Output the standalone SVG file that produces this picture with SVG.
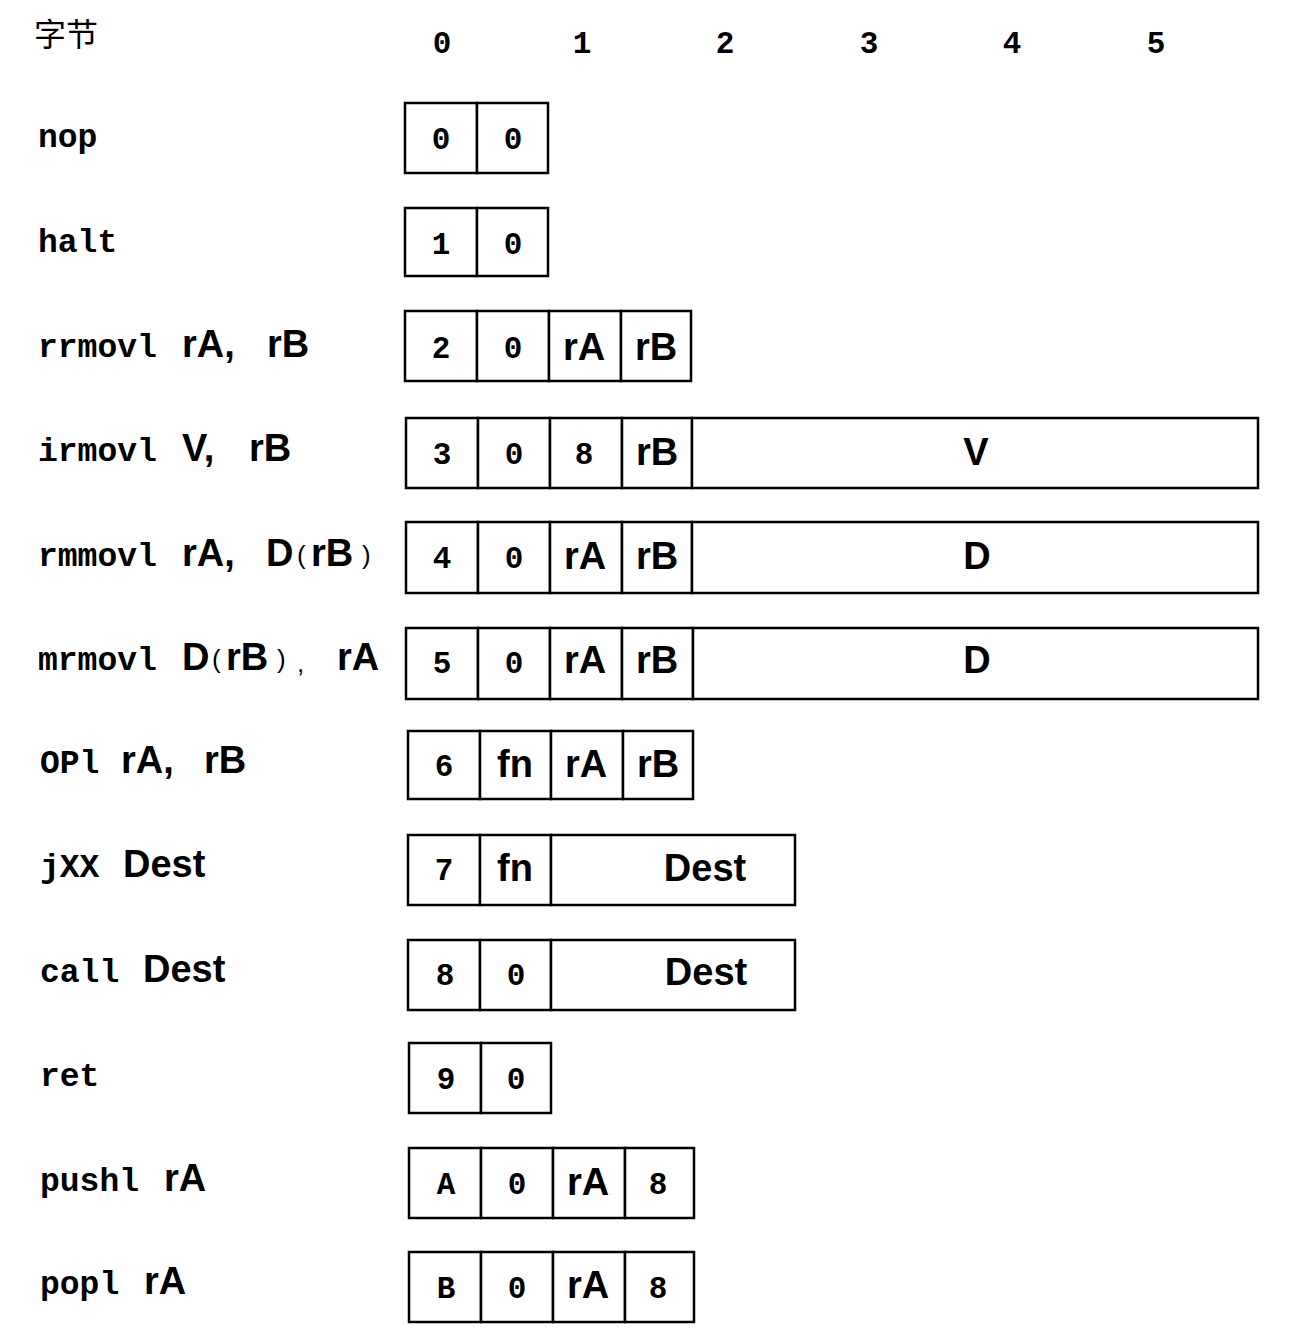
<svg xmlns="http://www.w3.org/2000/svg" width="1300" height="1340" viewBox="0 0 1300 1340">
<style>
.bg{fill:#fff}
.c{fill:#fff;stroke:#000;stroke-width:2.5}
.m{font-family:"Liberation Mono","DejaVu Sans Mono",monospace;font-weight:bold;font-size:33px;fill:#000}
.b{font-family:"Liberation Sans",Arial,sans-serif;font-weight:bold;font-size:38px;fill:#000}
.p{font-family:"Liberation Sans",Arial,sans-serif;font-size:26px;fill:#000}
.d{font-family:"Liberation Mono","DejaVu Sans Mono",monospace;font-weight:bold;font-size:31px;fill:#000;text-anchor:middle}
.bc{font-family:"Liberation Sans",Arial,sans-serif;font-weight:bold;font-size:38px;fill:#000;text-anchor:middle}
.h{font-family:"Liberation Mono","DejaVu Sans Mono",monospace;font-weight:bold;font-size:31px;fill:#000;text-anchor:middle}
.cjk{font-family:"Liberation Sans","Noto Sans CJK SC",sans-serif;font-size:32px;fill:#000}
</style>
<rect class="bg" x="0" y="0" width="1300" height="1340"/>
<g id="header">
<text class="cjk" x="34" y="46">字节</text>
<text class="h" x="442" y="53">0</text>
<text class="h" x="582" y="53">1</text>
<text class="h" x="725" y="53">2</text>
<text class="h" x="869" y="53">3</text>
<text class="h" x="1012" y="53">4</text>
<text class="h" x="1156" y="53">5</text>
</g>
<g id="connectors"></g>

<g id="nop">
<text class="m" x="38" y="147">nop</text>
<rect class="c" x="405" y="103" width="72" height="70"/>
<rect class="c" x="477" y="103" width="71" height="70"/>
<text class="d" x="441" y="149">0</text>
<text class="d" x="513" y="149">0</text>
</g>

<g id="halt">
<text class="m" x="38" y="252">halt</text>
<rect class="c" x="405" y="208" width="72" height="68"/>
<rect class="c" x="477" y="208" width="71" height="68"/>
<text class="d" x="441" y="254">1</text>
<text class="d" x="513" y="254">0</text>
</g>

<g id="rrmovl">
<text class="m" x="38" y="357">rrmovl</text>
<text class="b" x="182" y="357">rA,</text>
<text class="b" x="267" y="357">rB</text>
<rect class="c" x="405" y="311" width="72" height="70"/>
<rect class="c" x="477" y="311" width="72" height="70"/>
<rect class="c" x="549" y="311" width="72" height="70"/>
<rect class="c" x="621" y="311" width="70" height="70"/>
<text class="d" x="441" y="358">2</text>
<text class="d" x="513" y="358">0</text>
<text class="bc" x="584" y="360">rA</text>
<text class="bc" x="656" y="360">rB</text>
</g>

<g id="irmovl">
<text class="m" x="38" y="461">irmovl</text>
<text class="b" x="182" y="461">V,</text>
<text class="b" x="249" y="461">rB</text>
<rect class="c" x="406" y="418" width="72" height="70"/>
<rect class="c" x="478" y="418" width="72" height="70"/>
<rect class="c" x="550" y="418" width="72" height="70"/>
<rect class="c" x="622" y="418" width="70" height="70"/>
<rect class="c" x="692" y="418" width="566" height="70"/>
<text class="d" x="442" y="464">3</text>
<text class="d" x="514" y="464">0</text>
<text class="d" x="584" y="464">8</text>
<text class="bc" x="657" y="465">rB</text>
<text class="bc" x="976" y="465">V</text>
</g>

<g id="rmmovl">
<text class="m" x="38" y="566">rmmovl</text>
<text class="b" x="182" y="566">rA,</text>
<text class="b" x="266" y="566">D</text>
<text class="p" x="297" y="564">(</text>
<text class="b" x="311" y="566">rB</text>
<text class="p" x="362" y="564">)</text>
<rect class="c" x="406" y="522" width="72" height="71"/>
<rect class="c" x="478" y="522" width="72" height="71"/>
<rect class="c" x="550" y="522" width="72" height="71"/>
<rect class="c" x="622" y="522" width="70" height="71"/>
<rect class="c" x="692" y="522" width="566" height="71"/>
<text class="d" x="442" y="568">4</text>
<text class="d" x="514" y="568">0</text>
<text class="bc" x="585" y="569">rA</text>
<text class="bc" x="657" y="569">rB</text>
<text class="bc" x="977" y="569">D</text>
</g>

<g id="mrmovl">
<text class="m" x="38" y="670">mrmovl</text>
<text class="b" x="182" y="670">D</text>
<text class="p" x="212" y="668">(</text>
<text class="b" x="226" y="670">rB</text>
<text class="p" x="277" y="668">)</text>
<text class="p" x="297" y="672">,</text>
<text class="b" x="337" y="670">rA</text>
<rect class="c" x="406" y="628" width="72" height="71"/>
<rect class="c" x="478" y="628" width="72" height="71"/>
<rect class="c" x="550" y="628" width="72" height="71"/>
<rect class="c" x="622" y="628" width="71" height="71"/>
<rect class="c" x="693" y="628" width="565" height="71"/>
<text class="d" x="442" y="673">5</text>
<text class="d" x="514" y="673">0</text>
<text class="bc" x="585" y="673">rA</text>
<text class="bc" x="657" y="673">rB</text>
<text class="bc" x="977" y="673">D</text>
</g>

<g id="OPl">
<text class="m" x="40" y="773">OPl</text>
<text class="b" x="121" y="773">rA,</text>
<text class="b" x="204" y="773">rB</text>
<rect class="c" x="408" y="731" width="72" height="68"/>
<rect class="c" x="480" y="731" width="71" height="68"/>
<rect class="c" x="551" y="731" width="72" height="68"/>
<rect class="c" x="623" y="731" width="70" height="68"/>
<text class="d" x="444" y="776">6</text>
<text class="bc" x="515" y="777">fn</text>
<text class="bc" x="586" y="777">rA</text>
<text class="bc" x="658" y="777">rB</text>
</g>

<g id="jXX">
<text class="m" x="40" y="877">jXX</text>
<text class="b" x="123" y="877">Dest</text>
<rect class="c" x="408" y="835" width="72" height="70"/>
<rect class="c" x="480" y="835" width="71" height="70"/>
<rect class="c" x="551" y="835" width="244" height="70"/>
<text class="d" x="444" y="880">7</text>
<text class="bc" x="515" y="881">fn</text>
<text class="bc" x="705" y="881">Dest</text>
</g>

<g id="call">
<text class="m" x="40" y="982">call</text>
<text class="b" x="143" y="982">Dest</text>
<rect class="c" x="408" y="940" width="72" height="70"/>
<rect class="c" x="480" y="940" width="71" height="70"/>
<rect class="c" x="551" y="940" width="244" height="70"/>
<text class="d" x="445" y="985">8</text>
<text class="d" x="516" y="985">0</text>
<text class="bc" x="706" y="985">Dest</text>
</g>

<g id="ret">
<text class="m" x="40" y="1086">ret</text>
<rect class="c" x="409" y="1043" width="72" height="70"/>
<rect class="c" x="481" y="1043" width="70" height="70"/>
<text class="d" x="446" y="1089">9</text>
<text class="d" x="516" y="1089">0</text>
</g>

<g id="pushl">
<text class="m" x="40" y="1191">pushl</text>
<text class="b" x="164" y="1191">rA</text>
<rect class="c" x="409" y="1148" width="72" height="70"/>
<rect class="c" x="481" y="1148" width="72" height="70"/>
<rect class="c" x="553" y="1148" width="72" height="70"/>
<rect class="c" x="625" y="1148" width="69" height="70"/>
<text class="d" x="446" y="1194">A</text>
<text class="d" x="517" y="1194">0</text>
<text class="bc" x="588" y="1195">rA</text>
<text class="d" x="658" y="1194">8</text>
</g>

<g id="popl">
<text class="m" x="40" y="1294">popl</text>
<text class="b" x="144" y="1294">rA</text>
<rect class="c" x="409" y="1252" width="72" height="70"/>
<rect class="c" x="481" y="1252" width="72" height="70"/>
<rect class="c" x="553" y="1252" width="72" height="70"/>
<rect class="c" x="625" y="1252" width="69" height="70"/>
<text class="d" x="446" y="1298">B</text>
<text class="d" x="517" y="1298">0</text>
<text class="bc" x="588" y="1298">rA</text>
<text class="d" x="658" y="1298">8</text>
</g>
</svg>
